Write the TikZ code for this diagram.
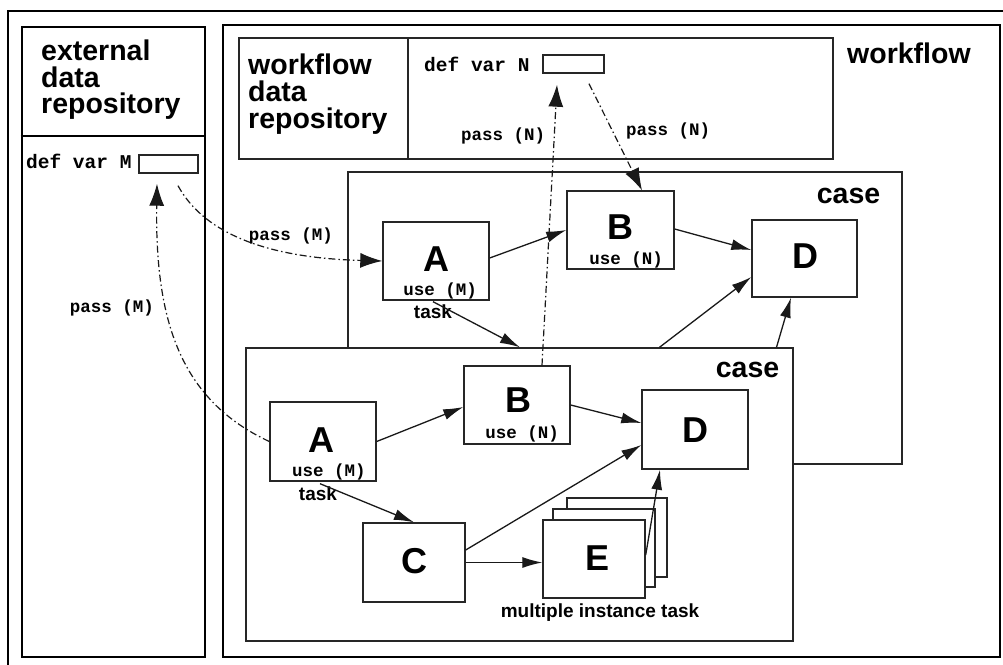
\documentclass[tikz,border=0pt]{standalone}
\usepackage{fontspec}
\setmainfont{Liberation Sans}
\newfontfamily\codefont{Liberation Mono}
\usetikzlibrary{arrows.meta,calc}
\begin{document}
\begin{tikzpicture}[x=1pt,y=-1pt,
  frame/.style={draw=black, line width=2.6pt, inner sep=0pt},
  box/.style={draw=black!85, line width=1.4pt, fill=white, inner sep=0pt},
  title/.style={font=\fontsize{28.5}{28}\selectfont\bfseries, anchor=base west, inner sep=0pt},
  big/.style={font=\fontsize{36}{36}\selectfont\bfseries, anchor=base, inner sep=0pt},
  small/.style={font=\fontsize{19}{19}\selectfont\bfseries, anchor=base, inner sep=0pt},
  code/.style={font=\codefont\bfseries\fontsize{17.5}{17.5}\selectfont, anchor=base, inner sep=0pt},
  defcode/.style={font=\codefont\bfseries\fontsize{19.5}{19.5}\selectfont, anchor=base west, inner sep=0pt},
  arr/.style={draw=black!90, line width=1.3pt, -{Latex[length=20pt,width=11pt]}},
  pass/.style={draw=black!90, line width=1.2pt, dash pattern=on 7pt off 3pt on 1.5pt off 3pt, -{Latex[length=22pt,width=15pt]}}
]
\useasboundingbox (0,0) rectangle (1003,664);
\begin{scope}
\clip (0,0) rectangle (1003,664);
\draw[line width=1.3pt] (8,11) rectangle (1020,680);
\end{scope}

% external data repository
\node[frame, minimum width=183pt, minimum height=630pt] (ext) at (113.5,342) {};
\draw[line width=1.5pt] (ext.west |- 0,136) -- (ext.east |- 0,136);
\node[title] (et1) at (41,60) {external};
\node[title] (et2) at (41,87) {data};
\node[title] (et3) at (41,113) {repository};
\node[defcode] (defM) at (26,168) {def var M};
\node[box, minimum width=59pt, minimum height=18pt] (Mbox) at (168.5,164) {};

% workflow
\node[frame, minimum width=777pt, minimum height=632pt] (wf) at (611.5,341) {};
\node[title] (wft) at (847,63) {workflow};
\node[box, minimum width=594pt, minimum height=121pt] (wdr) at (536,98.5) {};
\draw[line width=1.4pt, black!85] (408,0 |- wdr.north) -- (408,0 |- wdr.south);
\node[title] (wt1) at (248,74) {workflow};
\node[title] (wt2) at (248,101) {data};
\node[title] (wt3) at (248,128) {repository};
\node[defcode] (defN) at (424,71) {def var N};
\node[box, minimum width=61pt, minimum height=18pt] (Nbox) at (573.5,64) {};

% upper case
\node[box, minimum width=554pt, minimum height=292pt] (ucase) at (625,318) {};
\node[title, anchor=base] (uct) at (848.5,203) {case};
\node[box, minimum width=106pt, minimum height=78pt] (uA) at (436,261) {};
\node[big] (uAl) at (436,271) {A};
\node[code] (uAu) at (440,295) {use (M)};
\node[small] (uAt) at (433,318) {task};
\node[box, minimum width=107pt, minimum height=78pt] (uB) at (620.5,230) {};
\node[big] (uBl) at (620,239) {B};
\node[code] (uBu) at (626,264) {use (N)};
\node[box, minimum width=105pt, minimum height=77pt] (uD) at (804.5,258.5) {};
\node[big] (uDl) at (805,268) {D};

% lower case
\node[box, minimum width=547pt, minimum height=293pt] (lcase) at (519.5,494.5) {};
\node[title, anchor=base] (lct) at (747.5,377) {case};
\node[box, minimum width=106pt, minimum height=79pt] (lA) at (323,441.5) {};
\node[big] (lAl) at (321,452) {A};
\node[code] (lAu) at (329,476) {use (M)};
\node[small] (lAt) at (318,500) {task};
\node[box, minimum width=106pt, minimum height=78pt] (lB) at (517,405) {};
\node[big] (lBl) at (518,412) {B};
\node[code] (lBu) at (522,438) {use (N)};
\node[box, minimum width=106pt, minimum height=79pt] (lD) at (695,429.5) {};
\node[big] (lDl) at (695,442) {D};
\node[box, minimum width=102pt, minimum height=79pt] (C) at (414,562.5) {};
\node[big] (Cl) at (414,573) {C};
\node[box, minimum width=100pt, minimum height=79pt] (E3) at (617,537.5) {};
\node[box, minimum width=102pt, minimum height=78pt] (E2) at (604,548) {};
\node[box, minimum width=102pt, minimum height=78pt] (E) at (594,559) {};
\node[big] (El) at (597,570) {E};
\node[small] (mit) at (600,617) {multiple instance task};

% solid connectors
\draw[arr] ($(uA.east)+(0,-3)$) -- (uB.west);
\draw[arr] ($(uB.east)+(0,-1)$) -- ($(uD.west)+(0,-8.5)$);
\draw[arr] ($(uA.south)+(-3,1)$) -- ($(lcase.north)+(0.5,0)$);
\draw[arr] ($(lcase.north)+(140,0)$) -- ($(uD.west)+(0,18.5)$);
\draw[arr] ($(lcase.north)+(257,0)$) -- ($(uD.south)+(-13.5,0)$);
\draw[arr] (lA.east) -- ($(lB.west)+(0,2)$);
\draw[arr] (lB.east) -- ($(lD.west)+(0,-6.5)$);
\draw[arr] ($(lA.south)+(-3,2)$) -- (C.north);
\draw[arr] ($(C.east)+(0,-12.5)$) -- ($(lD.west)+(0,15.5)$);
\draw[arr] (C.east) -- (C.east -| E.west);
\draw[arr] ($(E.east)+(0,-4)$) -- ($(lD.south)+(-35,0)$);

% data passing
\draw[pass] ($(Mbox.south)+(9.5,12)$) .. controls (205,235) and (270,258) .. (uA.west);
\node[code] (pM1) at (291,240) {pass (M)};
\draw[pass] (lA.west) .. controls (180,400) and (155,320) .. ($(Mbox.south)+(-11.5,10)$);
\node[code] (pM2) at (112,312) {pass (M)};
\draw[pass] ($(lB.north)+(25,0)$) -- ($(Nbox.south)+(-16.5,11)$);
\node[code] (pN1) at (503,140) {pass (N)};
\draw[pass] ($(Nbox.south)+(15.5,10)$) -- ($(uB.north)+(21.5,0)$);
\node[code] (pN2) at (668,135) {pass (N)};
\end{tikzpicture}
\end{document}
